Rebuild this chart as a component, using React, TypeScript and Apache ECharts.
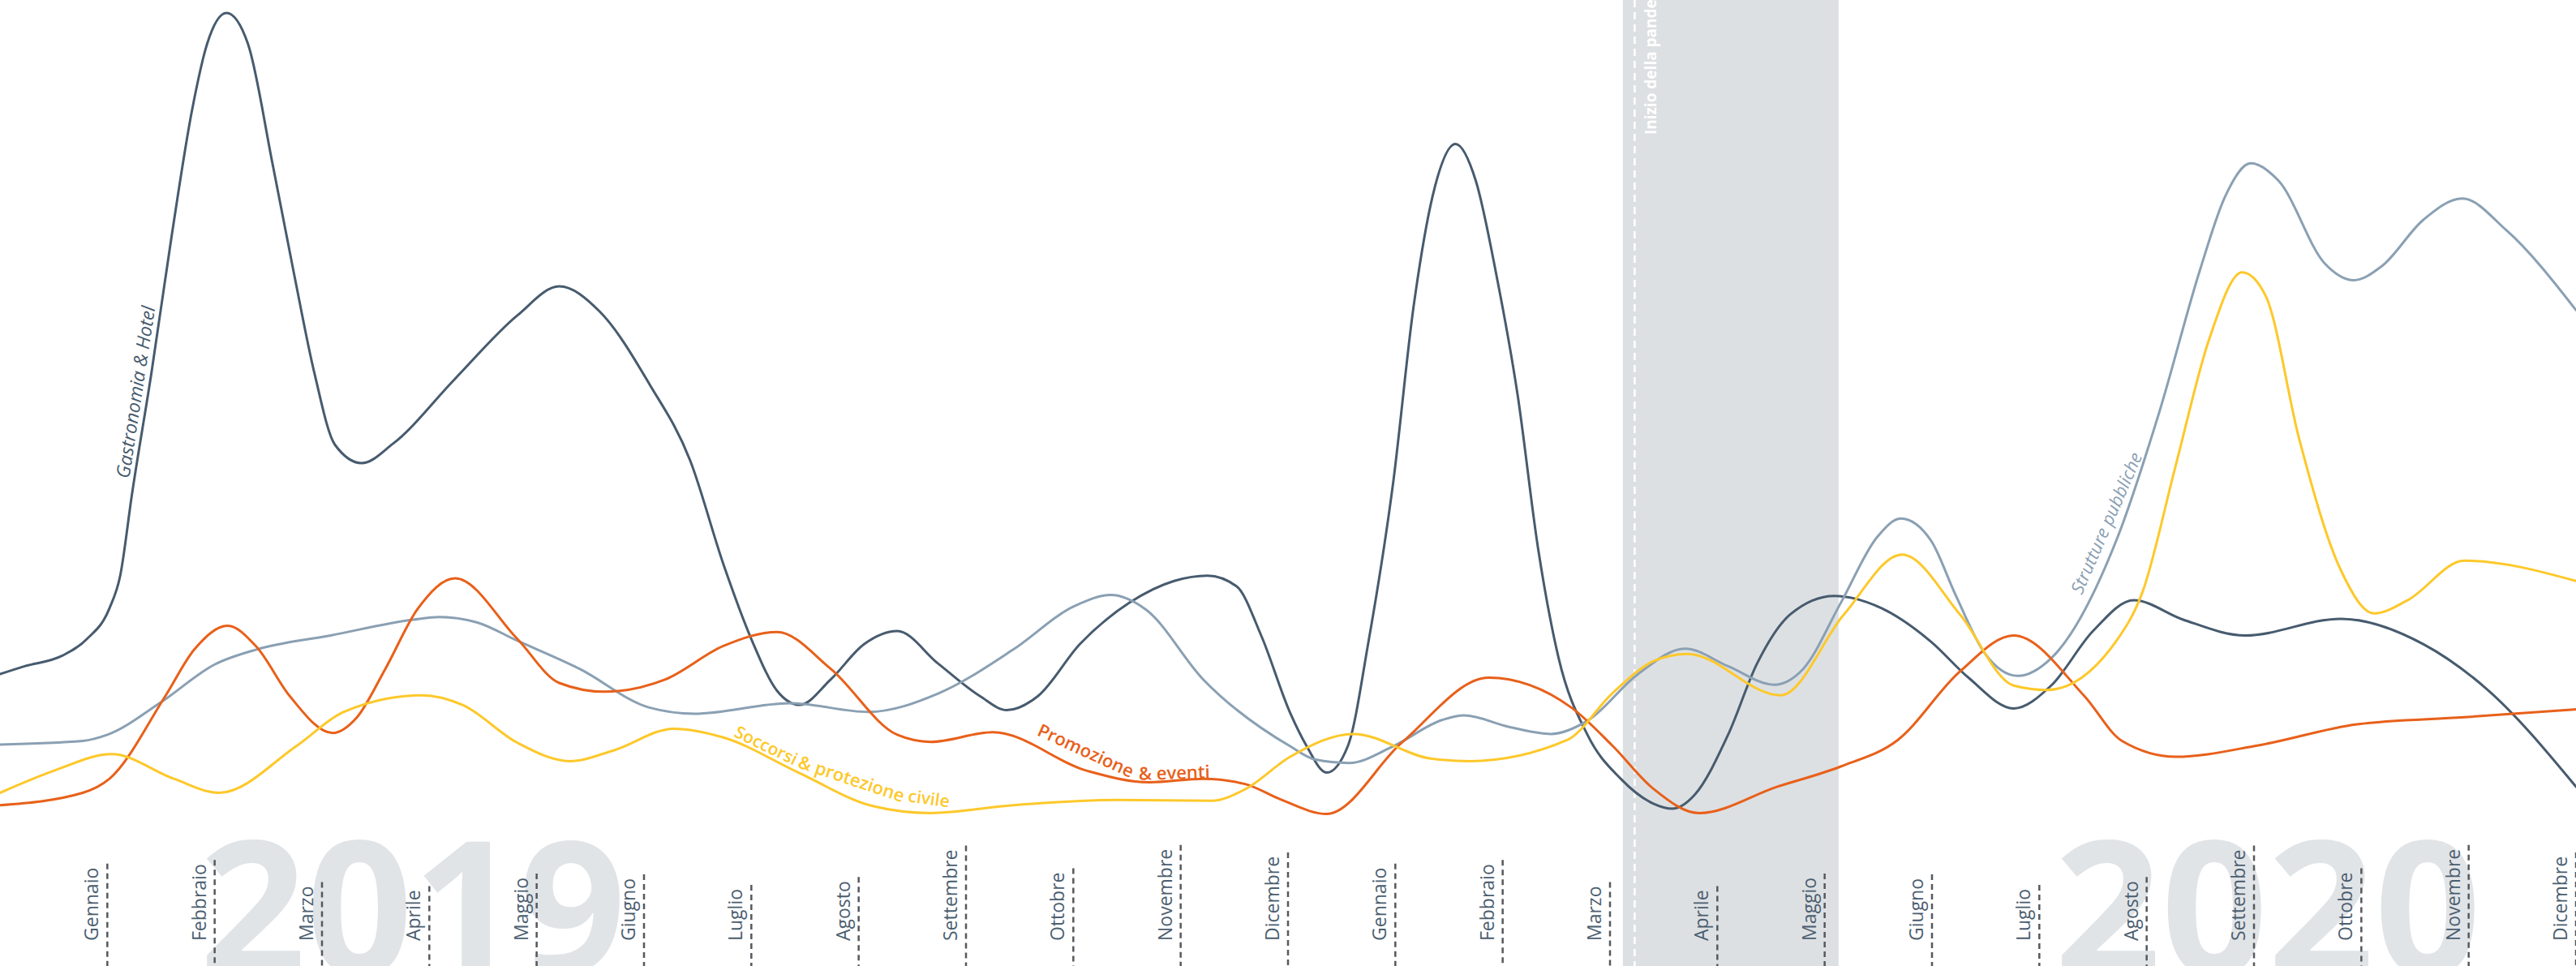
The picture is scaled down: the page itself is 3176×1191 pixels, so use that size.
import React, { useEffect, useRef } from "react";
import * as echarts from "echarts";

// x: month index (0 = start of the chart, 1 = "Gennaio 2019" tick … 24 = "Dicembre 2020" tick)
const monthNames = [
  "Gennaio", "Febbraio", "Marzo", "Aprile", "Maggio", "Giugno",
  "Luglio", "Agosto", "Settembre", "Ottobre", "Novembre", "Dicembre",
];
const monthLabels = [...monthNames, ...monthNames];
const yearLabels = ["2019", "2020"];

const gastronomia: [number, number][] = [
  [0, 24.8], [0.23, 25.7], [0.58, 26.9], [0.81, 28.8], [1.02, 32.3], [1.12, 36.0],
  [1.23, 45.3], [1.41, 59.0], [1.6, 74.7], [1.79, 89.0], [1.93, 96.5], [2.11, 100],
  [2.31, 96.5], [2.54, 82.8], [2.74, 70.3], [2.93, 59.0], [3.12, 50.9], [3.37, 48.8],
  [3.66, 51.0], [4.24, 58.4], [4.82, 65.6], [5.21, 68.9], [5.59, 66.0], [6.05, 57.8],
  [6.43, 49.1], [6.74, 37.3], [7.01, 28.5], [7.24, 22.9], [7.45, 21.3], [7.74, 24.2],
  [8.05, 28.2], [8.36, 29.7], [8.74, 26.0], [9.13, 22.3], [9.38, 20.7], [9.67, 22.3],
  [10.06, 28.2], [10.52, 32.9], [10.94, 35.4], [11.25, 36.0], [11.52, 34.8], [11.75, 29.2],
  [12.02, 20.4], [12.17, 16.7], [12.36, 13.6], [12.56, 16.7], [12.75, 28.5], [12.98, 46.6],
  [13.17, 66.6], [13.37, 80.3], [13.56, 85.1], [13.75, 80.9], [13.94, 70.3], [14.14, 56.5],
  [14.33, 39.1], [14.52, 26.7], [14.79, 17.9], [15.1, 12.9], [15.4, 10.1], [15.58, 9.5],
  [15.79, 11.1], [16.1, 17.9], [16.37, 26.0], [16.68, 31.6], [17.09, 33.7], [17.53, 32.3],
  [17.99, 28.5], [18.34, 24.4], [18.76, 20.9], [19.11, 23.5], [19.5, 29.7], [19.88, 33.2],
  [20.34, 31.0], [20.92, 29.2], [21.81, 31.1], [22.58, 28.2], [23.16, 23.2], [24, 12.0],
];

const strutture: [number, number][] = [
  [0, 16.8], [0.77, 17.2], [1.0, 17.9], [1.5, 21.6], [2.0, 25.9], [2.39, 27.6],
  [3.08, 29.2], [3.85, 31.0], [4.09, 31.3], [4.44, 30.7], [4.82, 28.6], [5.4, 25.4],
  [6.05, 21.0], [6.47, 20.3], [7.36, 21.5], [8.09, 20.5], [8.74, 22.6], [9.44, 27.6],
  [10.02, 32.6], [10.35, 33.8], [10.67, 32.2], [11.21, 24.2], [12.02, 16.6], [12.25, 15.1],
  [12.57, 14.7], [12.98, 16.6], [13.44, 19.6], [13.64, 20.1], [14.06, 18.8], [14.45, 18.0],
  [14.79, 19.5], [15.26, 24.8], [15.7, 27.7], [16.1, 25.7], [16.53, 23.6], [16.8, 25.4],
  [17.15, 32.9], [17.49, 40.4], [17.71, 42.5], [17.99, 40.0], [18.22, 33.8], [18.49, 27.2],
  [18.8, 24.6], [19.11, 26.6], [19.73, 40.4], [20.12, 54.7], [20.5, 70.9], [20.73, 79.1],
  [20.97, 82.9], [21.23, 80.9], [21.66, 71.5], [21.93, 69.6], [22.19, 71.2], [22.58, 76.5],
  [22.94, 78.9], [23.35, 75.3], [24, 66.2],
];

const promozione: [number, number][] = [
  [0, 9.9], [0.77, 11.3], [1.02, 12.9], [1.54, 22.3], [1.81, 27.6], [2.12, 30.3],
  [2.39, 27.9], [2.7, 22.3], [3.1, 18.1], [3.32, 19.8], [3.59, 25.4], [3.89, 32.2],
  [4.24, 35.7], [4.82, 28.8], [5.21, 23.8], [5.63, 22.8], [6.2, 24.2], [6.74, 28.0],
  [7.24, 29.6], [7.74, 25.4], [8.36, 17.9], [8.67, 17.1], [9.25, 18.2], [10.13, 13.8],
  [10.71, 12.5], [11.21, 12.9], [11.6, 12.3], [11.94, 10.5], [12.36, 8.9], [13.06, 17.0],
  [13.87, 24.4], [14.64, 21.0], [15.02, 16.7], [15.41, 11.7], [15.83, 9.0], [16.56, 12.0],
  [17.15, 14.3], [17.68, 17.3], [18.26, 25.1], [18.76, 29.2], [19.42, 22.3], [19.77, 17.2],
  [20.27, 15.4], [21.04, 16.7], [21.96, 19.1], [22.96, 19.9], [24, 20.8],
];

const soccorsi: [number, number][] = [
  [0, 11.3], [0.5, 13.8], [1.04, 15.7], [1.62, 12.9], [2.04, 11.3], [2.77, 16.7],
  [3.2, 20.5], [3.93, 22.4], [4.31, 21.3], [4.82, 17.0], [5.31, 14.9], [5.71, 16.1],
  [6.28, 18.6], [6.74, 17.6], [7.44, 13.6], [8.13, 9.8], [8.67, 9.0], [9.44, 9.9],
  [10.41, 10.5], [11.29, 10.4], [11.6, 11.7], [12.02, 15.4], [12.61, 18.0], [13.33, 15.2],
  [13.69, 14.9], [14.6, 17.3], [15.02, 22.6], [15.41, 26.3], [15.72, 27.1], [16.59, 22.4],
  [17.18, 31.6], [17.72, 38.4], [18.26, 31.6], [18.76, 23.5], [19.07, 23.0], [19.73, 28.8],
  [19.96, 34.1], [20.27, 48.5], [20.58, 62.8], [20.89, 70.5], [21.11, 67.8], [21.42, 51.6],
  [21.81, 36.6], [22.12, 31.7], [22.43, 33.2], [22.96, 37.7], [24, 35.4],
];

// lockdown period (month index) and start-of-pandemic marker
const lockdownPeriod = [15.12, 17.13];
const pandemicStart = 15.23;
const pandemicText = "Inizio della pandemia";

const C_GASTRO = "#475b6e";
const C_STRUTT = "#8aa0b3";
const C_PROMO = "#e8601a";
const C_SOCC = "#fdc82a";
const FONT = "Open Sans";

// annotations that follow the curves (position in data units, rotation in radians)
const curveLabels = [
  { text: "Gastronomia & Hotel", at: [1.258, 56.9], rot: 1.42, color: C_GASTRO, size: 23, weight: 400, italic: true },
  { text: "Strutture pubbliche", at: [19.62, 42.0], rot: 1.159, color: C_STRUTT, size: 22, weight: 400, italic: true },
  { text: "Soccorsi", at: [7.14, 16.75], rot: -0.45, color: C_SOCC, size: 21, weight: 600, italic: false },
  { text: "& protezione", at: [7.935, 13.0], rot: -0.32, color: C_SOCC, size: 22, weight: 600, italic: false },
  { text: "civile", at: [8.655, 10.7], rot: -0.14, color: C_SOCC, size: 21, weight: 600, italic: false },
  { text: "Promozione", at: [10.12, 16.2], rot: -0.43, color: C_PROMO, size: 22, weight: 600, italic: false },
  { text: "& eventi", at: [10.94, 13.7], rot: 0.03, color: C_PROMO, size: 22, weight: 600, italic: false },
];

const MONTH_FONT_SIZE = 23;

function measure(text: string, font: string): number {
  const c = document.createElement("canvas");
  const ctx = c.getContext("2d");
  if (!ctx) return text.length * 12;
  ctx.font = font;
  return ctx.measureText(text).width;
}

// monotone cubic (in x) path through pixel points
function monotonePath(pts: number[][]): string {
  const n = pts.length;
  if (n < 2) return "";
  const s: number[] = [];
  for (let i = 0; i < n - 1; i++) {
    const h = pts[i + 1][0] - pts[i][0];
    s.push(h ? (pts[i + 1][1] - pts[i][1]) / h : 0);
  }
  const t = new Array(n).fill(0);
  for (let i = 1; i < n - 1; i++) {
    const h0 = pts[i][0] - pts[i - 1][0];
    const h1 = pts[i + 1][0] - pts[i][0];
    const s0 = s[i - 1];
    const s1 = s[i];
    const p = (s0 * h1 + s1 * h0) / (h0 + h1);
    t[i] = (Math.sign(s0) + Math.sign(s1)) * Math.min(Math.abs(s0), Math.abs(s1), 0.5 * Math.abs(p)) || 0;
  }
  if (n > 2) {
    t[0] = (3 * s[0] - t[1]) / 2;
    t[n - 1] = (3 * s[n - 2] - t[n - 2]) / 2;
  } else {
    t[0] = s[0];
    t[1] = s[0];
  }
  let d = `M${pts[0][0]},${pts[0][1]}`;
  for (let i = 0; i < n - 1; i++) {
    const [x0, y0] = pts[i];
    const [x1, y1] = pts[i + 1];
    const dx = (x1 - x0) / 3;
    d += `C${x0 + dx},${y0 + dx * t[i]},${x1 - dx},${y1 - dx * t[i + 1]},${x1},${y1}`;
  }
  return d;
}

export default function App() {
  const ref = useRef<HTMLDivElement>(null);

  useEffect(() => {
    if (!ref.current) return;
    const chart = echarts.init(ref.current, undefined, { renderer: "svg" });
    const monthWidths = monthLabels.map((l) => measure(l, `${MONTH_FONT_SIZE}px "${FONT}"`));

    const curveSeries = (name: string, data: [number, number][], color: string) => ({
      name,
      type: "custom",
      z: 2,
      silent: true,
      data,
      renderItem: (params: any, api: any) => {
        if (params.dataIndex !== 0) return null;
        const pts = data.map((p) => api.coord(p));
        return {
          type: "path",
          shape: { pathData: monotonePath(pts) },
          style: { stroke: color, lineWidth: 3, fill: "none", lineJoin: "round", lineCap: "round" },
        };
      },
    });

    const yearStyle = { fill: "#e1e4e7", fontSize: 230, fontWeight: 700, fontFamily: FONT, align: "center", verticalAlign: "middle" };

    const option: any = {
      animation: false,
      backgroundColor: "#ffffff",
      grid: { left: 0, right: 0, top: 16, bottom: 91, containLabel: false },
      xAxis: { type: "value", min: 0, max: 24, show: false, splitLine: { show: false } },
      yAxis: { type: "value", min: 0, max: 100, show: false, splitLine: { show: false } },
      graphic: [
        { type: "text", z: 0, x: 509, y: 1112, style: { text: yearLabels[0], ...yearStyle } },
        { type: "text", z: 0, x: 2796, y: 1112, style: { text: yearLabels[1], ...yearStyle } },
      ],
      series: [
        {
          type: "custom",
          name: "lockdown",
          z: 1,
          silent: true,
          data: [[lockdownPeriod[0], lockdownPeriod[1]]],
          renderItem: (params: any, api: any) => {
            const h = api.getHeight();
            const x0 = api.coord([api.value(0), 0])[0];
            const x1 = api.coord([api.value(1), 0])[0];
            const xl = api.coord([pandemicStart, 0])[0];
            return {
              type: "group",
              children: [
                { type: "rect", shape: { x: x0, y: 0, width: x1 - x0, height: h }, style: { fill: "#dde0e3" } },
                { type: "line", shape: { x1: xl, y1: 0, x2: xl, y2: h }, style: { stroke: "#ffffff", lineWidth: 2.5, lineDash: [9, 6] } },
                {
                  type: "text", x: xl + 20, y: 166, rotation: Math.PI / 2,
                  style: { text: pandemicText, fill: "#ffffff", fontSize: 19, fontWeight: 700, fontFamily: FONT, align: "left", verticalAlign: "middle" },
                },
              ],
            };
          },
        },
        curveSeries("Gastronomia & Hotel", gastronomia, C_GASTRO),
        curveSeries("Strutture pubbliche", strutture, C_STRUTT),
        curveSeries("Promozione & eventi", promozione, C_PROMO),
        curveSeries("Soccorsi & protezione civile", soccorsi, C_SOCC),
        {
          type: "custom",
          name: "months",
          z: 3,
          silent: true,
          data: monthLabels.map((_, i) => [i + 1, 0]),
          renderItem: (params: any, api: any) => {
            const i = params.dataIndex;
            const h = api.getHeight();
            const x = api.coord([api.value(0), 0])[0];
            const baseY = h - 31;
            const tw = monthWidths[i];
            return {
              type: "group",
              children: [
                { type: "line", shape: { x1: x, y1: baseY - tw - 5, x2: x, y2: h }, style: { stroke: "#55595e", lineWidth: 2.5, lineDash: [7, 5] } },
                {
                  type: "text", x: x - 20, y: baseY, rotation: Math.PI / 2,
                  style: { text: monthLabels[i], fill: "#4b5e6f", fontSize: MONTH_FONT_SIZE, fontFamily: FONT, align: "left", verticalAlign: "middle" },
                },
              ],
            };
          },
        },
        {
          type: "custom",
          name: "curve labels",
          z: 4,
          silent: true,
          data: curveLabels.map((l) => [l.at[0], l.at[1]]),
          renderItem: (params: any, api: any) => {
            const l = curveLabels[params.dataIndex];
            const p = api.coord([api.value(0), api.value(1)]);
            return {
              type: "text", x: p[0], y: p[1], rotation: l.rot,
              style: {
                text: l.text, fill: l.color, fontSize: l.size, fontWeight: l.weight,
                fontStyle: l.italic ? "italic" : "normal", fontFamily: FONT,
                align: "center", verticalAlign: "middle",
              },
            };
          },
        },
      ],
    };

    chart.setOption(option);
    return () => chart.dispose();
  }, []);

  return (
    <div
      ref={ref}
      style={{ position: "fixed", left: 0, top: 0, width: 3176, height: 1191, background: "#fff" }}
    />
  );
}
